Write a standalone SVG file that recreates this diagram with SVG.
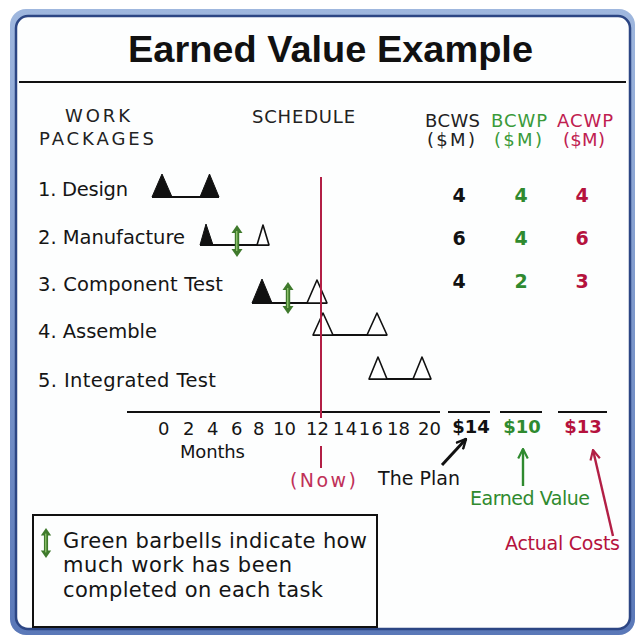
<svg xmlns="http://www.w3.org/2000/svg" width="639" height="642" viewBox="0 0 639 642">
<defs>
<style>
.t{font-family:"DejaVu Sans","Liberation Sans",sans-serif;font-size:19.5px;fill:#151515}
.lg{font-family:"DejaVu Sans","Liberation Sans",sans-serif;font-size:21px;fill:#151515}
.h{font-family:"DejaVu Sans","Liberation Sans",sans-serif;font-size:18px;fill:#222}
.n{font-family:"DejaVu Sans","Liberation Sans",sans-serif;font-weight:bold;font-size:19px;text-anchor:middle}
.blk{fill:#111}.grn{fill:#2f8a2f}.red{fill:#b5123d}
.ft{fill:#111;stroke:#111;stroke-width:1;stroke-linejoin:round}
.ho{fill:#fff;stroke:#111;stroke-width:1.6;stroke-linejoin:round}
.bar{stroke:#111;stroke-width:2;fill:none}
.rl{stroke:#b21f45;stroke-width:2;fill:none}
</style>
<symbol id="barbell" viewBox="-7 -17 14 34" overflow="visible">
<rect x="-2.2" y="-10" width="4.4" height="20" fill="#3f7a2c"/>
<polygon points="0,-16 -5.5,-8 5.5,-8" fill="#3f7a2c"/>
<polygon points="0,16 -5.5,8 5.5,8" fill="#3f7a2c"/>
<rect x="-1" y="-10" width="1.4" height="20" fill="#8cc06a"/>
</symbol>
<marker id="vk" viewBox="0 0 10 10" refX="9" refY="5" markerWidth="4" markerHeight="4" orient="auto" markerUnits="strokeWidth">
<path d="M1,1 L9,5 L1,9" fill="none" stroke="#111" stroke-width="2"/>
</marker>
<marker id="vg" viewBox="0 0 10 10" refX="9" refY="5" markerWidth="5" markerHeight="5" orient="auto" markerUnits="strokeWidth">
<path d="M1,1 L9,5 L1,9" fill="none" stroke="#2f8a2f" stroke-width="1.8"/>
</marker>
<marker id="vr" viewBox="0 0 10 10" refX="9" refY="5" markerWidth="5" markerHeight="5" orient="auto" markerUnits="strokeWidth">
<path d="M1,1 L9,5 L1,9" fill="none" stroke="#b21f45" stroke-width="1.8"/>
</marker>
<linearGradient id="fr" x1="0" y1="0" x2="0" y2="1">
<stop offset="0" stop-color="#9fb7de"/>
<stop offset="1" stop-color="#5a78b8"/>
</linearGradient>
</defs>

<rect width="639" height="642" fill="#ffffff"/>
<g id="frame">
<rect x="10" y="9" width="625" height="626" rx="16" fill="url(#fr)"/>
<rect x="16" y="16" width="614" height="613" rx="12" fill="#fdfefe" stroke="#2c4684" stroke-width="2.5"/>
</g>

<g id="title">
<text x="128" y="62" textLength="405" lengthAdjust="spacingAndGlyphs" style="font-family:'Liberation Sans',Arial,sans-serif;font-weight:bold;font-size:37px;fill:#111">Earned Value Example</text>
<line x1="19" y1="82" x2="626" y2="82" stroke="#111" stroke-width="2"/>
</g>

<g id="headers">
<text class="h" x="65" y="122" textLength="65">WORK</text>
<text class="h" x="39" y="145" textLength="115">PACKAGES</text>
<text class="h" x="252" y="123" textLength="103">SCHEDULE</text>
<text class="h" x="425" y="127" textLength="55">BCWS</text>
<text class="h" x="491" y="127" textLength="56" style="fill:#3a9a3a">BCWP</text>
<text class="h" x="557" y="127" textLength="56" style="fill:#c02050">ACWP</text>
<text class="h" x="427" y="146" textLength="48">($M)</text>
<text class="h" x="494" y="146" textLength="48" style="fill:#3a9a3a">($M)</text>
<text class="h" x="563" y="146" textLength="42" style="fill:#c02050">($M)</text>
</g>

<g id="task1">
<text class="t" x="38" y="196" textLength="90">1. Design</text>
<line class="bar" x1="152" y1="197" x2="219" y2="197"/>
<polygon class="ft" points="152,197 172,197 162,174"/>
<polygon class="ft" points="200,197 219,197 209.5,174"/>
<text class="n blk" x="459" y="202">4</text>
<text class="n grn" x="521" y="202">4</text>
<text class="n red" x="582" y="202">4</text>
</g>

<g id="task2">
<text class="t" x="38" y="244" textLength="147">2. Manufacture</text>
<line class="bar" x1="200" y1="245" x2="269" y2="245"/>
<polygon class="ft" points="200,245 213,245 206,224"/>
<polygon class="ho" points="257,245 269,245 263,225"/>
<use href="#barbell" x="230" y="224" width="14" height="34"/>
<text class="n blk" x="459" y="245">6</text>
<text class="n grn" x="521" y="245">4</text>
<text class="n red" x="582" y="245">6</text>
</g>

<g id="task3">
<text class="t" x="38" y="291" textLength="185">3. Component Test</text>
<line class="bar" x1="252" y1="303" x2="327" y2="303"/>
<polygon class="ft" points="252,303 272,303 262,279"/>
<polygon class="ho" points="307,303 327,303 317,280"/>
<use href="#barbell" x="281" y="281" width="14" height="34"/>
<text class="n blk" x="459" y="288">4</text>
<text class="n grn" x="521" y="288">2</text>
<text class="n red" x="582" y="288">3</text>
</g>

<g id="task4">
<text class="t" x="38" y="338" textLength="119">4. Assemble</text>
<line class="bar" x1="313" y1="335" x2="387" y2="335"/>
<polygon class="ho" points="313,335 333,335 323,313"/>
<polygon class="ho" points="367,335 387,335 377,313"/>
</g>

<g id="task5">
<text class="t" x="38" y="387" textLength="178">5. Integrated Test</text>
<line class="bar" x1="369" y1="379" x2="431" y2="379"/>
<polygon class="ho" points="369,379 387,379 378,357"/>
<polygon class="ho" points="413,379 431,379 422,357"/>
</g>

<g id="axis">
<line class="bar" x1="127" y1="412" x2="440" y2="412"/>
<line class="bar" x1="448" y1="412" x2="490" y2="412"/>
<line class="bar" x1="500" y1="412" x2="542" y2="412"/>
<line class="bar" x1="558" y1="412" x2="607" y2="412"/>
<text class="h" y="435" style="font-size:18px;fill:#151515"><tspan x="158">0</tspan> <tspan x="183">2</tspan> <tspan x="207">4</tspan> <tspan x="231">6</tspan> <tspan x="253">8</tspan> <tspan x="273">10</tspan> <tspan x="306">12</tspan> <tspan x="333" textLength="50">1416</tspan> <tspan x="387">18</tspan> <tspan x="418">20</tspan></text>
<text class="h" x="180" y="458" textLength="65" style="fill:#151515">Months</text>
<text class="n blk" x="471" y="433" style="font-size:18px">$14</text>
<text class="n grn" x="522" y="433" style="font-size:18px">$10</text>
<text class="n red" x="583" y="433" style="font-size:18px">$13</text>
</g>

<g id="now">
<line class="rl" x1="321" y1="177" x2="321" y2="418"/>
<line class="rl" x1="321" y1="446" x2="321" y2="468"/>
<text class="h" x="290" y="487" textLength="66" style="font-size:19px;fill:#c03058">(Now)</text>
</g>

<g id="labels">
<text class="h" x="378" y="485" textLength="82" style="font-size:19px;fill:#151515">The Plan</text>
<text class="h" x="470" y="505" textLength="120" style="font-size:19px;fill:#2f8a2f">Earned Value</text>
<text class="h" x="505" y="550" textLength="115" style="font-size:19px;fill:#b5123d">Actual Costs</text>
</g>

<g id="connectors">
<line x1="442" y1="465" x2="466" y2="439" stroke="#111" stroke-width="3" marker-end="url(#vk)"/>
<line x1="523" y1="486" x2="523" y2="449" stroke="#2f8a2f" stroke-width="2.4" marker-end="url(#vg)"/>
<line x1="613" y1="536" x2="593" y2="450" stroke="#b21f45" stroke-width="2.4" marker-end="url(#vr)"/>
</g>

<g id="legend">
<rect x="33" y="515" width="344" height="112" fill="none" stroke="#111" stroke-width="2"/>
<use href="#barbell" x="39" y="527" width="14" height="32"/>
<text class="lg" x="63" y="548" textLength="304">Green barbells indicate how</text>
<text class="lg" x="63" y="572" textLength="229">much work has been</text>
<text class="lg" x="63" y="597" textLength="260">completed on each task</text>
</g>
</svg>
